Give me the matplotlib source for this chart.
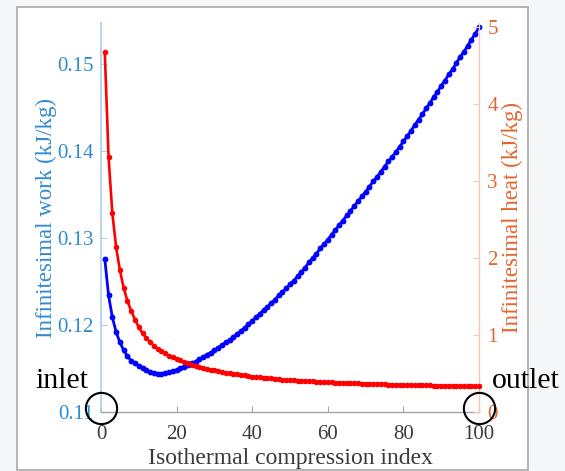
import matplotlib
matplotlib.use("Agg")
import matplotlib.pyplot as plt
from matplotlib.patches import Rectangle
import numpy as np

plt.rcParams['font.family'] = ['Liberation Serif', 'DejaVu Serif']

index = list(range(1, 101))

work = [
    0.1276, 0.1234, 0.1209, 0.1192, 0.1180, 0.1171, 0.1164, 0.1159, 0.1156, 0.1153,
    0.1150, 0.1148, 0.1146, 0.1145, 0.1144, 0.1144, 0.1145, 0.1146, 0.1147, 0.1148,
    0.1150, 0.1152, 0.1154, 0.1156, 0.1158, 0.1161, 0.1163, 0.1166, 0.1168, 0.1171,
    0.1174, 0.1177, 0.1180, 0.1183, 0.1186, 0.1190, 0.1193, 0.1197, 0.1201, 0.1205,
    0.1209, 0.1213, 0.1217, 0.1221, 0.1225, 0.1229, 0.1234, 0.1238, 0.1242, 0.1247,
    0.1251, 0.1256, 0.1261, 0.1266, 0.1272, 0.1277, 0.1282, 0.1288, 0.1293, 0.1298,
    0.1304, 0.1309, 0.1315, 0.1320, 0.1326, 0.1331, 0.1337, 0.1342, 0.1348, 0.1353,
    0.1359, 0.1365, 0.1370, 0.1376, 0.1382, 0.1388, 0.1393, 0.1399, 0.1405, 0.1411,
    0.1417, 0.1423, 0.1430, 0.1436, 0.1442, 0.1449, 0.1455, 0.1462, 0.1468, 0.1475,
    0.1481, 0.1488, 0.1494, 0.1501, 0.1508, 0.1514, 0.1521, 0.1528, 0.1535, 0.1542,
]

heat = [
    4.67, 3.31, 2.58, 2.14, 1.84, 1.61, 1.44, 1.31, 1.20, 1.10,
    1.02, 0.96, 0.91, 0.86, 0.82, 0.79, 0.76, 0.73, 0.71, 0.69,
    0.67, 0.65, 0.63, 0.61, 0.60, 0.58, 0.57, 0.56, 0.55, 0.54,
    0.53, 0.52, 0.51, 0.50, 0.495, 0.49, 0.48, 0.475, 0.47, 0.46,
    0.455, 0.45, 0.445, 0.44, 0.435, 0.43, 0.425, 0.42, 0.417, 0.414,
    0.411, 0.408, 0.405, 0.402, 0.399, 0.396, 0.393, 0.39, 0.388, 0.386,
    0.384, 0.382, 0.38, 0.378, 0.376, 0.374, 0.372, 0.37, 0.368, 0.366,
    0.364, 0.362, 0.361, 0.36, 0.358, 0.357, 0.356, 0.354, 0.353, 0.352,
    0.351, 0.35, 0.349, 0.348, 0.347, 0.346, 0.345, 0.344, 0.343, 0.342,
    0.341, 0.34, 0.339, 0.338, 0.337, 0.336, 0.335, 0.334, 0.333, 0.332,
]

x_ticks = [0, 20, 40, 60, 80, 100]
work_ticks = [0.11, 0.12, 0.13, 0.14, 0.15]
work_tick_labels = ['0.11', '0.12', '0.13', '0.14', '0.15']
heat_ticks = [0, 1, 2, 3, 4, 5]

LEFT_TXT = '#2f8bd0'
LEFT_LINE = '#a9cfeb'
RIGHT_TXT = '#e2652e'
RIGHT_LINE = '#f6c7b3'
GRAY_TXT = '#3a3a3a'

fig = plt.figure(figsize=(5.65, 4.71), dpi=100)
fig.patch.set_facecolor('#f6f7f9')
# white panel with gray border
fig.patches.append(Rectangle((17/565, 1 - 470/471), (528-17)/565, (470-7)/471,
                             transform=fig.transFigure, facecolor='white',
                             edgecolor='#a8a8a8', linewidth=1.2, zorder=-10))

ax = fig.add_axes([101/565, 1 - 412/471, 378/565, (412-23)/471])
ax.set_facecolor('none')
ax2 = ax.twinx()
ax2.set_facecolor('none')

ax.plot(index, work, color='#0000ff', marker='o', markersize=4.2, markeredgewidth=0,
        linewidth=2.0, clip_on=False, zorder=3)
ax2.plot(index, heat, color='#ff0000', marker='o', markersize=4.0, markeredgewidth=0,
         linewidth=1.9, clip_on=False, zorder=3)

ax.set_xlim(0, 100)
ax.set_ylim(0.11, 0.15471)
ax2.set_ylim(0, 5.05)

ax.set_xticks(x_ticks)
ax.set_yticks(work_ticks)
ax.set_yticklabels(work_tick_labels)
ax2.set_yticks(heat_ticks)

for a in (ax, ax2):
    a.spines['top'].set_visible(False)
ax.spines['right'].set_visible(False)
ax2.spines['left'].set_visible(False)
ax2.spines['bottom'].set_visible(False)
ax.spines['left'].set_color(LEFT_LINE)
ax.spines['left'].set_linewidth(1.2)
ax.spines['bottom'].set_color('#a5a5a5')
ax.spines['bottom'].set_linewidth(1.0)
ax2.spines['right'].set_color(RIGHT_LINE)
ax2.spines['right'].set_linewidth(1.0)

ax.tick_params(axis='x', direction='in', length=4, color='#a5a5a5', labelcolor=GRAY_TXT,
               labelsize=15, pad=9.5)
ax.tick_params(axis='y', direction='in', length=4, color=LEFT_LINE, labelcolor=LEFT_TXT,
               labelsize=15, pad=5)
ax2.tick_params(axis='y', direction='in', length=4, color=RIGHT_LINE, labelcolor=RIGHT_TXT,
                labelsize=15, pad=6)

ax.set_xlabel('Isothermal compression index', fontsize=17, color=GRAY_TXT)
ax.xaxis.set_label_coords(0.5, -0.093)
ax.set_ylabel('Infinitesimal work (kJ/kg)', fontsize=16.5, color=LEFT_TXT)
ax.yaxis.set_label_coords(-0.116, 0.5)
ax2.set_ylabel('Infinitesimal heat (kJ/kg)', fontsize=16.5, color=RIGHT_TXT, rotation=90)
ax2.yaxis.set_label_coords(1.061, 0.5)

# inlet / outlet annotations
ax2.plot([0, 100], [0.05, 0.05], linestyle='none', marker='o', markersize=22.5,
         markerfacecolor='none', markeredgecolor='black', markeredgewidth=1.5,
         clip_on=False, zorder=5)
fig.text(35/565, 1 - 388/471, 'inlet', fontsize=21.5, color='black', va='baseline', ha='left')
fig.text(492/565, 1 - 388/471, 'outlet', fontsize=21.5, color='black', va='baseline', ha='left')

fig.savefig('out.png', dpi=100, facecolor=fig.get_facecolor())
